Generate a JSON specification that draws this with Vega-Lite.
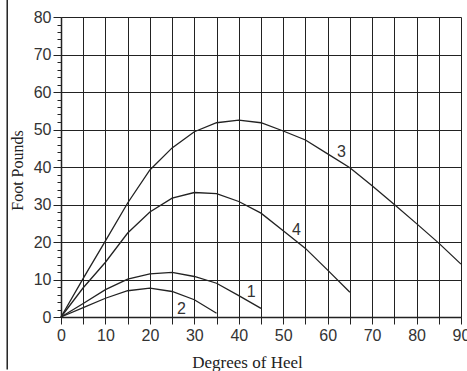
{
  "$schema": "https://vega.github.io/schema/vega-lite/v6.json",
  "width": 400,
  "height": 300,
  "autosize": "none",
  "padding": {"left": 61, "top": 17, "right": 6, "bottom": 54},
  "background": "white",
  "config": {"view": {"stroke": null}},
  "datasets": {
    "curves": [
      {"curve": "3", "deg": 0, "ft": 0}, {"curve": "3", "deg": 5, "ft": 10.3}, {"curve": "3", "deg": 10, "ft": 20.3},
      {"curve": "3", "deg": 15, "ft": 30.4}, {"curve": "3", "deg": 20, "ft": 39.2}, {"curve": "3", "deg": 25, "ft": 45.1},
      {"curve": "3", "deg": 30, "ft": 49.4}, {"curve": "3", "deg": 35, "ft": 51.8}, {"curve": "3", "deg": 40, "ft": 52.5},
      {"curve": "3", "deg": 45, "ft": 51.8}, {"curve": "3", "deg": 50, "ft": 49.6}, {"curve": "3", "deg": 55, "ft": 47.2},
      {"curve": "3", "deg": 60, "ft": 43.5}, {"curve": "3", "deg": 65, "ft": 39.8}, {"curve": "3", "deg": 70, "ft": 35},
      {"curve": "3", "deg": 75, "ft": 30}, {"curve": "3", "deg": 80, "ft": 24.9}, {"curve": "3", "deg": 85, "ft": 19.7},
      {"curve": "3", "deg": 90, "ft": 14.1},
      {"curve": "4", "deg": 0, "ft": 0}, {"curve": "4", "deg": 5, "ft": 7.8}, {"curve": "4", "deg": 10, "ft": 14.6},
      {"curve": "4", "deg": 15, "ft": 22.4}, {"curve": "4", "deg": 20, "ft": 28}, {"curve": "4", "deg": 25, "ft": 31.7},
      {"curve": "4", "deg": 30, "ft": 33.2}, {"curve": "4", "deg": 35, "ft": 32.9}, {"curve": "4", "deg": 40, "ft": 30.8},
      {"curve": "4", "deg": 45, "ft": 27.7}, {"curve": "4", "deg": 50, "ft": 23}, {"curve": "4", "deg": 55, "ft": 18.3},
      {"curve": "4", "deg": 60, "ft": 12.5}, {"curve": "4", "deg": 65, "ft": 6.6},
      {"curve": "1", "deg": 0, "ft": 0}, {"curve": "1", "deg": 5, "ft": 3.6}, {"curve": "1", "deg": 10, "ft": 7.3},
      {"curve": "1", "deg": 15, "ft": 10.1}, {"curve": "1", "deg": 20, "ft": 11.5}, {"curve": "1", "deg": 25, "ft": 11.9},
      {"curve": "1", "deg": 30, "ft": 10.8}, {"curve": "1", "deg": 35, "ft": 9.0}, {"curve": "1", "deg": 40, "ft": 5.7},
      {"curve": "1", "deg": 45, "ft": 2.3},
      {"curve": "2", "deg": 0, "ft": 0}, {"curve": "2", "deg": 5, "ft": 2.5}, {"curve": "2", "deg": 10, "ft": 5},
      {"curve": "2", "deg": 15, "ft": 7}, {"curve": "2", "deg": 20, "ft": 7.7}, {"curve": "2", "deg": 25, "ft": 6.8},
      {"curve": "2", "deg": 30, "ft": 4.6}, {"curve": "2", "deg": 35, "ft": 1.0}
    ],
    "labels": [
      {"label": "1", "deg": 42.8, "ft": 6.6},
      {"label": "2", "deg": 27.1, "ft": 2.1},
      {"label": "3", "deg": 63.1, "ft": 44},
      {"label": "4", "deg": 53, "ft": 23.1}
    ],
    "frame": [{"deg": -12.1, "ft": -14, "hi": 85}]
  },
  "encoding": {
    "x": {
      "field": "deg", "type": "quantitative",
      "scale": {"domain": [0, 90], "nice": false},
      "axis": {
        "values": [0, 5, 10, 15, 20, 25, 30, 35, 40, 45, 50, 55, 60, 65, 70, 75, 80, 85, 90],
        "labelExpr": "datum.value % 10 === 0 ? datum.label : ''",
        "labelOverlap": false, "labelFlush": false,
        "grid": true, "gridColor": "#222", "gridOpacity": 1, "gridWidth": 1,
        "tickSize": 7, "tickColor": "#222", "tickWidth": 1,
        "domainColor": "#222", "domainWidth": 1.5,
        "labelFont": "Liberation Sans", "labelFontSize": 16, "labelColor": "#333", "labelPadding": 3,
        "title": "Degrees of Heel", "titleFont": "Liberation Serif", "titleFontSize": 17,
        "titleFontWeight": "normal", "titleColor": "#222",
        "titleX": 186, "titleY": 50, "titleBaseline": "alphabetic"
      }
    },
    "y": {
      "field": "ft", "type": "quantitative",
      "scale": {"domain": [0, 80], "nice": false},
      "axis": {
        "values": [0, 2, 4, 6, 8, 10, 12, 14, 16, 18, 20, 22, 24, 26, 28, 30, 32, 34, 36, 38, 40, 42, 44, 46, 48, 50, 52, 54, 56, 58, 60, 62, 64, 66, 68, 70, 72, 74, 76, 78, 80],
        "labelExpr": "datum.value % 10 === 0 ? datum.label : ''",
        "labelOverlap": false, "labelFlush": false,
        "grid": true, "gridColor": "#222", "gridWidth": 1,
        "gridOpacity": {"condition": {"test": "datum.value % 10 === 0", "value": 1}, "value": 0},
        "tickSize": {"condition": {"test": "datum.value % 10 === 0", "value": 8}, "value": 4},
        "tickColor": "#222", "tickWidth": 1,
        "domainColor": "#222", "domainWidth": 1.5,
        "labelFont": "Liberation Sans", "labelFontSize": 16, "labelColor": "#333", "labelPadding": 2,
        "title": "Foot Pounds", "titleFont": "Liberation Serif", "titleFontSize": 16,
        "titleFontWeight": "normal", "titleColor": "#222",
        "titleX": -38.5, "titleY": 153, "titleBaseline": "alphabetic"
      }
    }
  },
  "layer": [
    {
      "data": {"name": "curves"},
      "mark": {"type": "line", "color": "#222", "strokeWidth": 1.3},
      "encoding": {"detail": {"field": "curve"}}
    },
    {
      "data": {"name": "labels"},
      "mark": {"type": "text", "font": "Liberation Sans", "fontSize": 16, "color": "#333"},
      "encoding": {"text": {"field": "label"}}
    },
    {
      "data": {"name": "frame"},
      "mark": {"type": "rule", "color": "#222", "strokeWidth": 1.5},
      "encoding": {"y2": {"field": "hi"}}
    }
  ]
}
